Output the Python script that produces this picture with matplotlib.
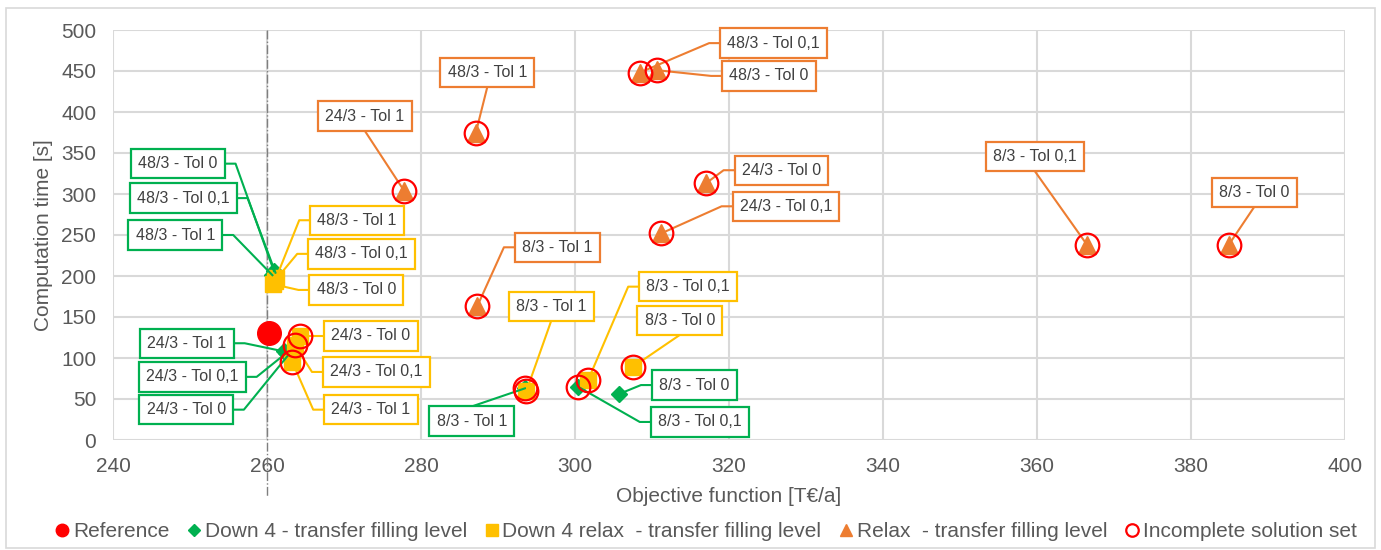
import matplotlib
matplotlib.use("Agg")
import matplotlib.pyplot as plt
from matplotlib.lines import Line2D
from matplotlib.patches import Rectangle

plt.rcParams['font.family'] = ['Liberation Sans', 'DejaVu Sans']

# ---------------- data ----------------
labels = ['48/3 - Tol 0', '48/3 - Tol 0,1', '48/3 - Tol 1',
          '24/3 - Tol 0', '24/3 - Tol 0,1', '24/3 - Tol 1',
          '8/3 - Tol 0', '8/3 - Tol 0,1', '8/3 - Tol 1']

ref_x = [260.2]
ref_y = [130]

down4_x = [260.9, 261.1, 260.7, 262.8, 262.5, 262.2, 305.7, 300.4, 293.5]
down4_y = [206, 204, 201, 104, 106, 108, 56, 65, 63]
down4_incomplete = [False, False, False, False, False, False, False, True, True]

down4relax_x = [260.8, 261.0, 261.2, 264.3, 263.6, 263.3, 307.5, 301.7, 293.7]
down4relax_y = [190, 194, 198, 127, 116, 95, 89, 73, 60]
down4relax_incomplete = [False, False, False, True, True, True, True, True, True]

relax_x = [310.6, 308.4, 287.1, 317.0, 311.2, 277.8, 384.9, 366.5, 287.3]
relax_y = [451, 448, 374, 313, 252, 304, 238, 238, 163]
relax_incomplete = [True] * 9

reference_line_x = 260

# label box centres (layout, data coordinates)
down4_lbl_x = [248.4, 249.1, 248.1, 249.5, 250.3, 249.6, 315.5, 316.2, 286.6]
down4_lbl_y = [337, 295, 250, 37, 77, 118, 67, 22, 23]
down4relax_lbl_x = [271.6, 272.3, 271.7, 273.5, 274.2, 273.5, 313.6, 314.7, 296.9]
down4relax_lbl_y = [183, 227, 268, 127, 83, 37, 146, 187, 163]
relax_lbl_x = [325.2, 325.8, 288.6, 326.8, 327.4, 272.7, 388.2, 359.7, 297.7]
relax_lbl_y = [444, 484, 448, 329, 285, 395, 302, 346, 235]

# ---------------- style ----------------
C_REF = '#FF0000'
C_GREEN = '#00B050'
C_YEL = '#FFC000'
C_ORA = '#ED7D31'
C_TXT = '#404040'
C_TICK = '#595959'
C_GRID = '#D9D9D9'

fig = plt.figure(figsize=(13.81, 5.5), dpi=100)
fig.patches.append(Rectangle((0.004, 0.003), 0.992, 0.983, transform=fig.transFigure,
                             fill=False, edgecolor='#D9D9D9', linewidth=1.2))
ax = fig.add_axes([113 / 1381, 110 / 550, 1232 / 1381, 410 / 550])

ax.set_xlim(240, 400)
ax.set_ylim(0, 500)
ax.set_xticks(range(240, 401, 20))
ax.set_yticks(range(0, 501, 50))
ax.grid(True, color=C_GRID, linewidth=1.5, zorder=0)
ax.set_axisbelow(True)
for s in ax.spines.values():
    s.set_visible(False)
ax.tick_params(length=0, labelsize=15, labelcolor=C_TICK, pad=12)
ax.set_xlabel('Objective function [T€/a]', fontsize=15, color=C_TICK, labelpad=8)
ax.set_ylabel('Computation time [s]', fontsize=15, color=C_TICK, labelpad=6)

# vertical reference line (extends below the axis)
ax.plot([reference_line_x, reference_line_x], [1.0, -0.14],
        transform=ax.get_xaxis_transform(), color='#7F7F7F', linestyle='-.',
        linewidth=1.0, clip_on=False, zorder=1)

# series
ax.plot(ref_x, ref_y, 'o', color=C_REF, markersize=17, zorder=3, linestyle='none')
ax.plot(down4_x, down4_y, 'D', color=C_GREEN, markersize=8, zorder=3, linestyle='none')
ax.plot(down4relax_x, down4relax_y, 's', color=C_YEL, markersize=11, zorder=3, linestyle='none')
ax.plot(relax_x, relax_y, '^', color=C_ORA, markersize=13, zorder=3, linestyle='none')

# incomplete solution markers
inc_x, inc_y = [], []
for xs, ys, flags in [(down4_x, down4_y, down4_incomplete),
                      (down4relax_x, down4relax_y, down4relax_incomplete),
                      (relax_x, relax_y, relax_incomplete)]:
    for x, y, f in zip(xs, ys, flags):
        if f:
            inc_x.append(x)
            inc_y.append(y)
ax.plot(inc_x, inc_y, 'o', markerfacecolor='none', markeredgecolor=C_REF,
        markeredgewidth=1.6, markersize=17, zorder=5, linestyle='none')

# labels
texts = []
for xs, ys, lx, ly, col in [(down4_x, down4_y, down4_lbl_x, down4_lbl_y, C_GREEN),
                            (down4relax_x, down4relax_y, down4relax_lbl_x, down4relax_lbl_y, C_YEL),
                            (relax_x, relax_y, relax_lbl_x, relax_lbl_y, C_ORA)]:
    for lab, x, y, tx, ty in zip(labels, xs, ys, lx, ly):
        t = ax.text(tx, ty, lab, fontsize=11.5, color=C_TXT, ha='center', va='center',
                    zorder=7,
                    bbox=dict(boxstyle='square,pad=0.45', facecolor='white',
                              edgecolor=col, linewidth=1.6))
        texts.append((t, x, y, col))

fig.canvas.draw()
renderer = fig.canvas.get_renderer()
inv = ax.transData.inverted()
for t, x, y, col in texts:
    bb = t.get_bbox_patch().get_window_extent(renderer)
    px, py = ax.transData.transform((x, y))
    w = bb.x1 - bb.x0
    xm = (bb.x0 + bb.x1) / 2
    ym = (bb.y0 + bb.y1) / 2
    if bb.x0 - 0.15 * w <= px <= bb.x1 + 0.15 * w:
        # vertical attach (top / bottom centre)
        if py < bb.y0:
            pts = [(xm, bb.y0), (px, py)]
        else:
            pts = [(xm, bb.y1), (px, py)]
    elif px > bb.x1:
        pts = [(bb.x1, ym), (bb.x1 + 11, ym), (px, py)]
    else:
        pts = [(bb.x0, ym), (bb.x0 - 11, ym), (px, py)]
    dpts = inv.transform(pts)
    ax.plot(dpts[:, 0], dpts[:, 1], color=col, linewidth=1.5, zorder=4, clip_on=False)

# legend
handles = [
    Line2D([], [], marker='o', color=C_REF, linestyle='none', markersize=9),
    Line2D([], [], marker='D', color=C_GREEN, linestyle='none', markersize=6),
    Line2D([], [], marker='s', color=C_YEL, linestyle='none', markersize=8),
    Line2D([], [], marker='^', color=C_ORA, linestyle='none', markersize=9),
    Line2D([], [], marker='o', markerfacecolor='none', markeredgecolor=C_REF,
           markeredgewidth=1.6, linestyle='none', markersize=9),
]
names = ['Reference', 'Down 4 - transfer filling level',
         'Down 4 relax  - transfer filling level', 'Relax  - transfer filling level',
         'Incomplete solution set']
leg = fig.legend(handles, names, loc='center', bbox_to_anchor=(0.51, 0.033), ncol=5,
                 frameon=False, fontsize=15, handletextpad=0.0, columnspacing=0.7,
                 handlelength=1.0, borderaxespad=0)
for txt in leg.get_texts():
    txt.set_color(C_TICK)

fig.savefig('out.png', dpi=100)
